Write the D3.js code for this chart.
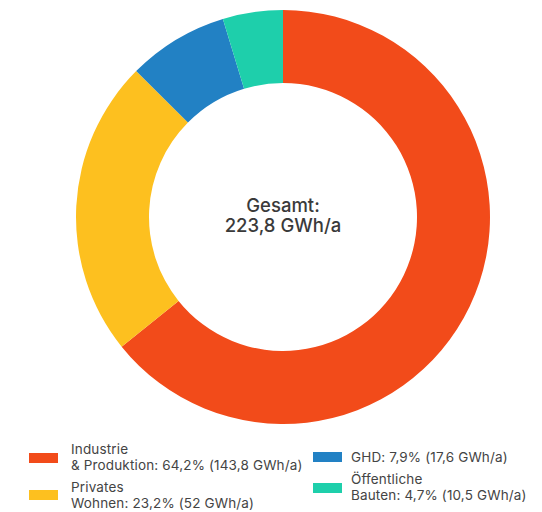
<!DOCTYPE html>
<html>
<head>
<meta charset="utf-8">
<script src="https://cdn.jsdelivr.net/npm/d3@7"></script>
<style>
  body { margin: 0; background: #fff; }
  svg { display: block; font-family: Inter, "Noto Sans", sans-serif; }
</style>
</head>
<body>
<div id="chart"></div>
<script>
// Energieverbrauch nach Sektor
var sectors = ["Industrie & Produktion", "Privates Wohnen", "GHD", "Öffentliche Bauten"];
var values = [143.8, 52, 17.6, 10.5];
var colors = ["#f24b1a", "#fdc01f", "#2281c4", "#1ecfab"];
var legendLines = [
    ["Industrie", "& Produktion: 64,2% (143,8 GWh/a)"],
    ["Privates", "Wohnen: 23,2% (52 GWh/a)"],
    ["GHD: 7,9% (17,6 GWh/a)"],
    ["Öffentliche", "Bauten: 4,7% (10,5 GWh/a)"]
];
var centerLines = ["Gesamt:", "223,8 GWh/a"];

var w = 542, h = 512;
var cx = 283, cy = 217;
var outerR = 207, innerR = 134;

var svg = d3.select("#chart").append("svg").attr("width", w).attr("height", h);

var color = d3.scaleOrdinal().domain(sectors).range(colors);

var pie = d3.pie().sort(null).value(function (d) { return d; });
var arc = d3.arc().innerRadius(innerR).outerRadius(outerR);

var g = svg.append("g").attr("transform", "translate(" + cx + "," + cy + ")");

g.selectAll("path")
    .data(pie(values))
    .enter()
    .append("path")
    .attr("d", arc)
    .attr("fill", function (d, i) { return color(sectors[i]); });

// center label
g.selectAll("text.center")
    .data(centerLines)
    .enter()
    .append("text")
    .attr("class", "center")
    .attr("text-anchor", "middle")
    .attr("y", function (d, i) { return -5 + i * 20; })
    .attr("font-size", "18.5px")
    .attr("font-weight", 500)
    .attr("fill", "#3a3a3a")
    .text(function (d) { return d; });

// legend
var legendPos = [
    { x: 29, y: 453, tx: 71, ty: [454, 470] },
    { x: 29, y: 490, tx: 71, ty: [492, 508] },
    { x: 313, y: 452, tx: 351, ty: [462] },
    { x: 313, y: 483, tx: 351, ty: [484, 500] }
];

var legend = svg.selectAll("g.legend")
    .data(sectors)
    .enter()
    .append("g")
    .attr("class", "legend");

legend.append("rect")
    .attr("x", function (d, i) { return legendPos[i].x; })
    .attr("y", function (d, i) { return legendPos[i].y; })
    .attr("width", 29)
    .attr("height", 10)
    .attr("fill", function (d) { return color(d); });

legend.each(function (d, i) {
    d3.select(this).selectAll("text")
        .data(legendLines[i])
        .enter()
        .append("text")
        .attr("x", legendPos[i].tx)
        .attr("y", function (t, j) { return legendPos[i].ty[j]; })
        .attr("font-size", "13.5px")
        .attr("letter-spacing", "0.15px")
        .attr("fill", "#444")
        .text(function (t) { return t; });
});
</script>
</body>
</html>
